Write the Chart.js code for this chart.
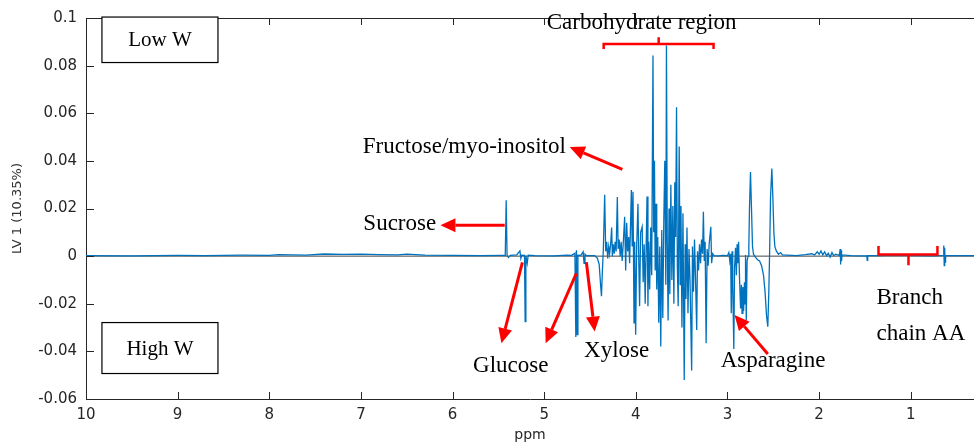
<!DOCTYPE html>
<html>
<head>
<meta charset="utf-8">
<script src="https://cdn.jsdelivr.net/npm/chart.js@4.4.1/dist/chart.umd.min.js"></script>
<style>
  html, body { margin: 0; padding: 0; background: #fff; }
  canvas { display: block; }
</style>
</head>
<body>
<canvas id="plsChart" width="974" height="448"></canvas>
<script>
// LV1 loadings, [ppm, loading], ppm descending
const lowField = [
  [10.0, 0.0002], [9.5, 0.0001], [9.0, 0.0003], [8.7, 0.0002], [8.3, 0.0004], [8.0, 0.0003],
  [7.9, 0.0006], [7.6, 0.0004], [7.4, 0.0009], [7.2, 0.0007], [7.0, 0.0008], [6.8, 0.0006],
  [6.6, 0.0005], [6.5, 0.0008], [6.3, 0.0004], [6.0, 0.0003], [5.7, 0.0002], [5.45, 0.0003]
]
const anomeric = [
  [5.425, 0.0003], [5.415, 0.0235], [5.405, 0.0002], [5.39, -0.0006], [5.37, 0.0003],
  [5.30, 0.0005], [5.265, 0.0022], [5.255, -0.0010], [5.245, 0.0004],
  [5.215, 0.0003], [5.208, -0.0275], [5.200, 0.0002], [5.185, -0.0030], [5.175, 0.0004],
  [5.10, 0.0002], [4.90, 0.0001], [4.75, 0.0004], [4.70, 0.0003], [4.665, 0.0012],
  [4.655, -0.0340], [4.648, 0.0025], [4.640, -0.0330], [4.632, 0.0004],
  [4.60, 0.0003], [4.575, 0.0018], [4.565, -0.0030], [4.555, 0.0008], [4.54, 0.0002],
  [4.45, 0.0002], [4.42, -0.0008], [4.40, -0.0035], [4.385, -0.0120], [4.375, -0.0168],
  [4.365, -0.0060], [4.355, 0.0025]
]
const carbohydrate = [
  [4.340, 0.0258], [4.329, 0.0020], [4.318, 0.0060], [4.307, -0.0010], [4.296, 0.0040],
  [4.286, 0.0010], [4.275, 0.0050], [4.264, 0.0120], [4.256, 0.0000], [4.247, 0.0050],
  [4.236, 0.0010], [4.226, 0.0060], [4.215, 0.0020], [4.202, 0.0248], [4.193, 0.0030],
  [4.182, 0.0070], [4.171, 0.0000], [4.160, 0.0060], [4.149, -0.0020], [4.138, 0.0050],
  [4.122, 0.0165], [4.111, -0.0060], [4.100, 0.0140], [4.089, 0.0020], [4.078, 0.0080],
  [4.068, -0.0030], [4.049, 0.0278], [4.040, 0.0040], [4.031, 0.0270], [4.020, -0.0280],
  [4.013, 0.0060], [4.002, -0.0330], [3.991, 0.0040], [3.977, 0.0220], [3.967, -0.0040],
  [3.959, -0.0210], [3.948, 0.0100], [3.931, 0.0123], [3.920, -0.0110], [3.909, 0.0050],
  [3.898, -0.0200], [3.878, 0.0250], [3.868, -0.0210], [3.860, 0.0060], [3.849, -0.0140],
  [3.838, 0.0120], [3.827, -0.0080], [3.813, 0.0842], [3.805, 0.0100], [3.797, 0.0400],
  [3.789, -0.0060], [3.780, 0.0220], [3.772, -0.0140], [3.761, 0.0080], [3.750, -0.0280],
  [3.739, 0.0040], [3.728, -0.0380], [3.717, 0.0110], [3.706, -0.0260], [3.695, 0.0150],
  [3.684, 0.0400], [3.673, -0.0120], [3.666, 0.0884], [3.657, 0.0050], [3.648, -0.0270],
  [3.638, 0.0200], [3.629, -0.0160], [3.618, 0.0300], [3.607, -0.0100], [3.596, 0.0210],
  [3.585, -0.0200], [3.575, 0.0310], [3.566, 0.0080], [3.556, 0.0625], [3.547, -0.0050],
  [3.538, -0.0210], [3.527, 0.0460], [3.517, -0.0120], [3.508, 0.0210], [3.497, -0.0300],
  [3.486, 0.0180], [3.472, -0.0520], [3.462, 0.0050], [3.453, -0.0180], [3.442, 0.0120],
  [3.431, -0.0240], [3.420, 0.0030], [3.409, -0.0100], [3.391, -0.0480], [3.382, 0.0040],
  [3.371, -0.0150], [3.360, 0.0070], [3.349, -0.0090], [3.336, -0.0310], [3.327, 0.0020],
  [3.316, -0.0060], [3.305, 0.0050], [3.294, -0.0030], [3.283, 0.0070], [3.272, 0.0010],
  [3.263, 0.0186], [3.253, -0.0020], [3.244, 0.0060], [3.233, -0.0366], [3.222, 0.0030],
  [3.211, -0.0040], [3.200, 0.0050], [3.182, 0.0123], [3.173, -0.0030], [3.162, 0.0010],
  [3.146, 0.0002]
]
const aminoAcid = [
  [3.10, 0.0001], [3.05, 0.0003], [3.00, 0.0002], [2.985, 0.0015], [2.975, -0.0020], [2.965, 0.0010],
  [2.959, -0.0240], [2.950, 0.0020], [2.943, -0.0120], [2.931, -0.0390], [2.923, -0.0050],
  [2.912, 0.0035], [2.903, -0.0080], [2.895, 0.0050], [2.887, -0.0030], [2.879, 0.0060],
  [2.868, -0.0100], [2.857, -0.0220], [2.848, -0.0120], [2.841, -0.0240], [2.832, -0.0130],
  [2.824, -0.0230], [2.815, -0.0110], [2.808, -0.0200], [2.803, 0.0005], [2.795, -0.0270],
  [2.786, -0.0020], [2.775, 0.0000], [2.767, 0.0040], [2.760, 0.0200], [2.749, 0.0353],
  [2.738, 0.0200], [2.727, 0.0040], [2.716, 0.0008], [2.694, -0.0005], [2.672, -0.0015],
  [2.650, -0.0020], [2.628, -0.0040], [2.607, -0.0080], [2.590, -0.0150], [2.574, -0.0250],
  [2.560, -0.0296], [2.549, -0.0150], [2.541, 0.0000], [2.530, 0.0250], [2.516, 0.0368],
  [2.505, 0.0250], [2.494, 0.0100], [2.483, 0.0040], [2.465, 0.0020], [2.443, 0.0008],
  [2.421, 0.0015], [2.399, 0.0005]
]
const highField = [
  [2.35, 0.0004], [2.25, 0.0002], [2.15, 0.0006], [2.08, 0.0010], [2.05, 0.0005], [2.02, 0.0018],
  [2.00, 0.0008], [1.98, 0.0022], [1.96, 0.0005], [1.94, 0.0018], [1.92, 0.0002], [1.90, 0.0012],
  [1.88, -0.0004], [1.86, 0.0015], [1.84, 0.0002], [1.82, 0.0008], [1.78, 0.0003], [1.77, 0.0030],
  [1.765, -0.0035], [1.76, 0.0025], [1.755, -0.0020], [1.75, 0.0005], [1.65, 0.0002], [1.55, 0.0001],
  [1.48, 0.0002], [1.475, -0.0018], [1.47, 0.0002], [1.35, 0.0002], [1.2, 0.0004], [1.05, 0.0003],
  [0.9, 0.0002], [0.75, 0.0001], [0.645, 0.0003], [0.64, 0.0045], [0.635, -0.0040], [0.63, 0.0035],
  [0.625, -0.0025], [0.62, 0.0003], [0.5, 0.0002], [0.31, 0.0002]
]

const ppmTicks = [10, 9, 8, 7, 6, 5, 4, 3, 2, 1]
const lvTicks = [0.1, 0.08, 0.06, 0.04, 0.02, 0, -0.02, -0.04, -0.06]

// annotations, placed in data units
const notes = [
  { text: 'Carbohydrate region', ppm: 3.937, lv: 0.0980, align: 'center' },
  { text: 'Fructose/myo-inositol', ppm: 5.872, lv: 0.0457, align: 'center' },
  { text: 'Sucrose', ppm: 6.576, lv: 0.0134, align: 'center' },
  { text: 'Glucose', ppm: 5.365, lv: -0.0461, align: 'center' },
  { text: 'Xylose', ppm: 4.209, lv: -0.0398, align: 'center' },
  { text: 'Asparagine', ppm: 2.503, lv: -0.0440, align: 'center' },
  { text: 'Branch', ppm: 1.374, lv: -0.0176, align: 'left' },
  { text: 'chain AA', ppm: 1.374, lv: -0.0327, align: 'left' }
]
const groupBoxes = [
  { text: 'Low W', ppm: [9.826, 8.560], lv: [0.1004, 0.0813] },
  { text: 'High W', ppm: [9.826, 8.560], lv: [-0.0279, -0.0493] }
]
const arrows = [
  { from: [4.147, 0.0364], to: [4.722, 0.0458] },
  { from: [5.431, 0.0130], to: [6.132, 0.0130] },
  { from: [5.238, -0.0026], to: [5.467, -0.0366] },
  { from: [4.649, -0.0072], to: [4.984, -0.0366] },
  { from: [4.540, -0.0025], to: [4.449, -0.0317] },
  { from: [2.560, -0.0411], to: [2.923, -0.0247] }
]
const braces = [
  { from: 4.351, to: 3.152, mid: 3.751, lv: 0.0891, ends: 0.0870, tip: 0.0919 },
  { from: 1.352, to: 0.709, mid: 1.025, lv: 0.0007, ends: 0.0042, tip: -0.0038 }
]

const points = [...lowField, ...anomeric, ...carbohydrate, ...aminoAcid, ...highField]
  .map(([x, y]) => ({ x, y }))

const AXIS = '#262626'
const RED = '#ff0000'
const SERIF = '"Liberation Serif", "Times New Roman", serif'
const SANS = '"DejaVu Sans", sans-serif'

function arrow(ctx, x1, y1, x2, y2) {
  const a = Math.atan2(y2 - y1, x2 - x1)
  const len = 15, half = 7
  const bx = x2 - len * Math.cos(a), by = y2 - len * Math.sin(a)
  ctx.beginPath()
  ctx.moveTo(x1, y1)
  ctx.lineTo(bx, by)
  ctx.stroke()
  ctx.beginPath()
  ctx.moveTo(x2, y2)
  ctx.lineTo(bx + half * Math.sin(a), by - half * Math.cos(a))
  ctx.lineTo(bx - half * Math.sin(a), by + half * Math.cos(a))
  ctx.closePath()
  ctx.fill()
}

const frame = {
  id: 'frame',
  beforeDatasetsDraw(chart) {
    const { ctx, chartArea: a, scales: { y } } = chart
    const y0 = y.getPixelForValue(0)
    ctx.save()
    ctx.strokeStyle = '#444'
    ctx.lineWidth = 1
    ctx.beginPath()
    ctx.moveTo(a.left, y0)
    ctx.lineTo(a.right, y0)
    ctx.stroke()
    ctx.restore()
  },
  afterDraw(chart) {
    const { ctx, chartArea: a, scales: { x, y } } = chart
    ctx.save()
    // top edge + inward ticks, matlab box style
    ctx.strokeStyle = AXIS
    ctx.lineWidth = 1
    ctx.beginPath()
    ctx.moveTo(a.left, a.top + 0.5)
    ctx.lineTo(a.right, a.top + 0.5)
    ppmTicks.forEach(t => {
      const px = Math.round(x.getPixelForValue(t)) + 0.5
      ctx.moveTo(px, a.bottom); ctx.lineTo(px, a.bottom - 7)
      ctx.moveTo(px, a.top); ctx.lineTo(px, a.top + 7)
    })
    lvTicks.forEach(t => {
      const py = Math.round(y.getPixelForValue(t)) + 0.5
      ctx.moveTo(a.left, py); ctx.lineTo(a.left + 8, py)
    })
    ctx.stroke()

    // red arrows and braces
    ctx.strokeStyle = RED
    ctx.fillStyle = RED
    ctx.lineWidth = 3
    arrows.forEach(({ from, to }) => {
      arrow(ctx, x.getPixelForValue(from[0]), y.getPixelForValue(from[1]),
        x.getPixelForValue(to[0]), y.getPixelForValue(to[1]))
    })
    ctx.lineWidth = 2.5
    braces.forEach(b => {
      const x1 = x.getPixelForValue(b.from), x2 = x.getPixelForValue(b.to), xm = x.getPixelForValue(b.mid)
      const yl = y.getPixelForValue(b.lv), ye = y.getPixelForValue(b.ends), yt = y.getPixelForValue(b.tip)
      ctx.beginPath()
      ctx.moveTo(x1, ye); ctx.lineTo(x1, yl); ctx.lineTo(x2, yl); ctx.lineTo(x2, ye)
      ctx.moveTo(xm, yl); ctx.lineTo(xm, yt)
      ctx.stroke()
    })

    // text
    ctx.fillStyle = '#000'
    ctx.font = '23px ' + SERIF
    ctx.textBaseline = 'middle'
    notes.forEach(n => {
      ctx.textAlign = n.align
      ctx.fillText(n.text, x.getPixelForValue(n.ppm), y.getPixelForValue(n.lv))
    })
    ctx.font = '21px ' + SERIF
    ctx.textAlign = 'center'
    ctx.strokeStyle = '#000'
    ctx.lineWidth = 1.2
    groupBoxes.forEach(b => {
      const x1 = x.getPixelForValue(b.ppm[0]), x2 = x.getPixelForValue(b.ppm[1])
      const y1 = y.getPixelForValue(b.lv[0]), y2 = y.getPixelForValue(b.lv[1])
      ctx.fillStyle = '#fff'
      ctx.fillRect(x1, y1, x2 - x1, y2 - y1)
      ctx.strokeRect(x1, y1, x2 - x1, y2 - y1)
      ctx.fillStyle = '#000'
      ctx.fillText(b.text, (x1 + x2) / 2, (y1 + y2) / 2 + 1)
    })
    ctx.restore()
  }
}

new Chart(document.getElementById('plsChart'), {
  type: 'scatter',
  data: {
    datasets: [{
      label: 'LV 1',
      data: points,
      showLine: true,
      borderColor: '#0072BD',
      borderWidth: 1.3,
      pointRadius: 0,
      tension: 0
    }]
  },
  options: {
    responsive: false,
    animation: false,
    layout: { padding: { top: 17, right: 0, left: 0, bottom: 0 } },
    plugins: { legend: { display: false }, tooltip: { enabled: false } },
    scales: {
      x: {
        type: 'linear', reverse: true, min: 0.31, max: 10,
        afterBuildTicks: s => { s.ticks = ppmTicks.map(v => ({ value: v })) },
        afterFit: s => { s.height = 49 },
        grid: { display: false, drawTicks: false },
        border: { display: true, color: AXIS },
        ticks: { color: AXIS, font: { family: SANS, size: 15 }, padding: 7, maxRotation: 0, autoSkip: false },
        title: { display: true, text: 'ppm', color: AXIS, font: { family: SANS, size: 14 }, padding: { top: 0, bottom: 4 } }
      },
      y: {
        min: -0.06, max: 0.1,
        afterBuildTicks: s => { s.ticks = lvTicks.map(v => ({ value: v })) },
        afterFit: s => { s.width = 86 },
        grid: { display: false, drawTicks: false },
        border: { display: true, color: AXIS },
        ticks: {
          color: AXIS, font: { family: SANS, size: 15 }, padding: 9,
          callback: v => String(Number(v.toFixed(2)) || 0)
        },
        title: { display: true, text: 'LV 1 (10.35%)', color: '#333', font: { family: SANS, size: 13 }, padding: { top: 10, bottom: 0 } }
      }
    }
  },
  plugins: [frame]
})
</script>
</body>
</html>
